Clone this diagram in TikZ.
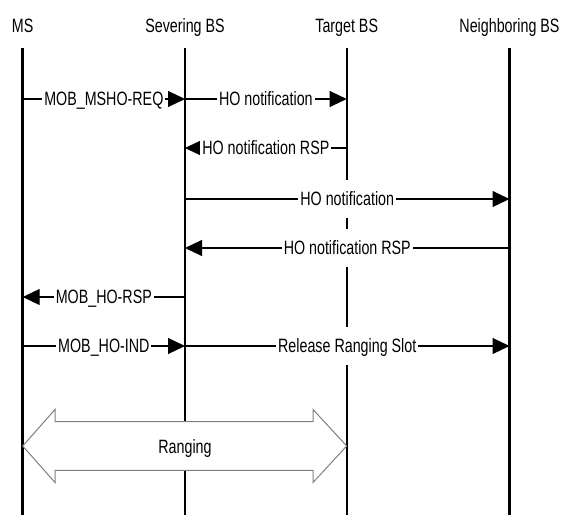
\documentclass[tikz,border=0pt]{standalone}
\usepackage{fontspec}
\setmainfont{Liberation Sans}[FakeStretch=0.74]
\usepackage{tikz}
\usetikzlibrary{arrows.meta}

\begin{document}
\begin{tikzpicture}[x=1pt, y=-1pt, font=\fontsize{19.3}{22}\selectfont,
    lifeline/.style={line width=2.2pt},
    msg/.style={line width=1.1pt, -{Triangle[length=17pt,width=16pt]}},
    lbl/.style={fill=white, inner xsep=2pt, inner ysep=0pt, text height=13.8pt, text depth=0pt, minimum height=38pt},
    rangearrow/.style={draw=gray, line width=1pt, fill=white}]
    \useasboundingbox (0,0) rectangle (563,515);

    % Entities and lifelines
    \foreach \x/\name/\txt/\w in {22.7/ms/MS/2.8, 185/sev/Severing BS/2.2, 346.7/tgt/Target BS/2.2, 509.5/nbr/Neighboring BS/2.2} {
        \node[anchor=base] (\name) at (\x,32) {\txt};
        \draw[lifeline, line width=\w pt] (\name |- 0,48) -- (\name |- 0,515);
    }

    % Messages
    \draw[msg] (ms |- 0,99) -- node[lbl] {MOB\_MSHO-REQ} (sev |- 0,99);
    \draw[msg] (sev |- 0,99) -- node[lbl] {HO notification} (tgt |- 0,99);
    \draw[msg] (tgt |- 0,148) -- node[lbl] {HO notification RSP} (sev |- 0,148);
    \draw[msg] (sev |- 0,199) -- node[lbl] {HO notification} (nbr |- 0,199);
    \draw[msg] (nbr |- 0,248) -- node[lbl] {HO notification RSP} (sev |- 0,248);
    \draw[msg] (sev |- 0,297) -- node[lbl] {MOB\_HO-RSP} (ms |- 0,297);
    \draw[msg] (ms |- 0,346) -- node[lbl] {MOB\_HO-IND} (sev |- 0,346);
    \draw[msg] (sev |- 0,346) -- node[lbl] {Release Ranging Slot} (nbr |- 0,346);

    % Ranging (double arrow between MS and Target BS)
    \draw[rangearrow] (22.7,446) -- (55,409.5) -- (55,421.7) -- (313,421.7) -- (313,409.5) -- (346.7,446)
        -- (313,482.5) -- (313,470.3) -- (55,470.3) -- (55,482.5) -- cycle;
    \node[lbl, fill=none] (ranging) at (185,446.7) {Ranging};
\end{tikzpicture}
\end{document}
